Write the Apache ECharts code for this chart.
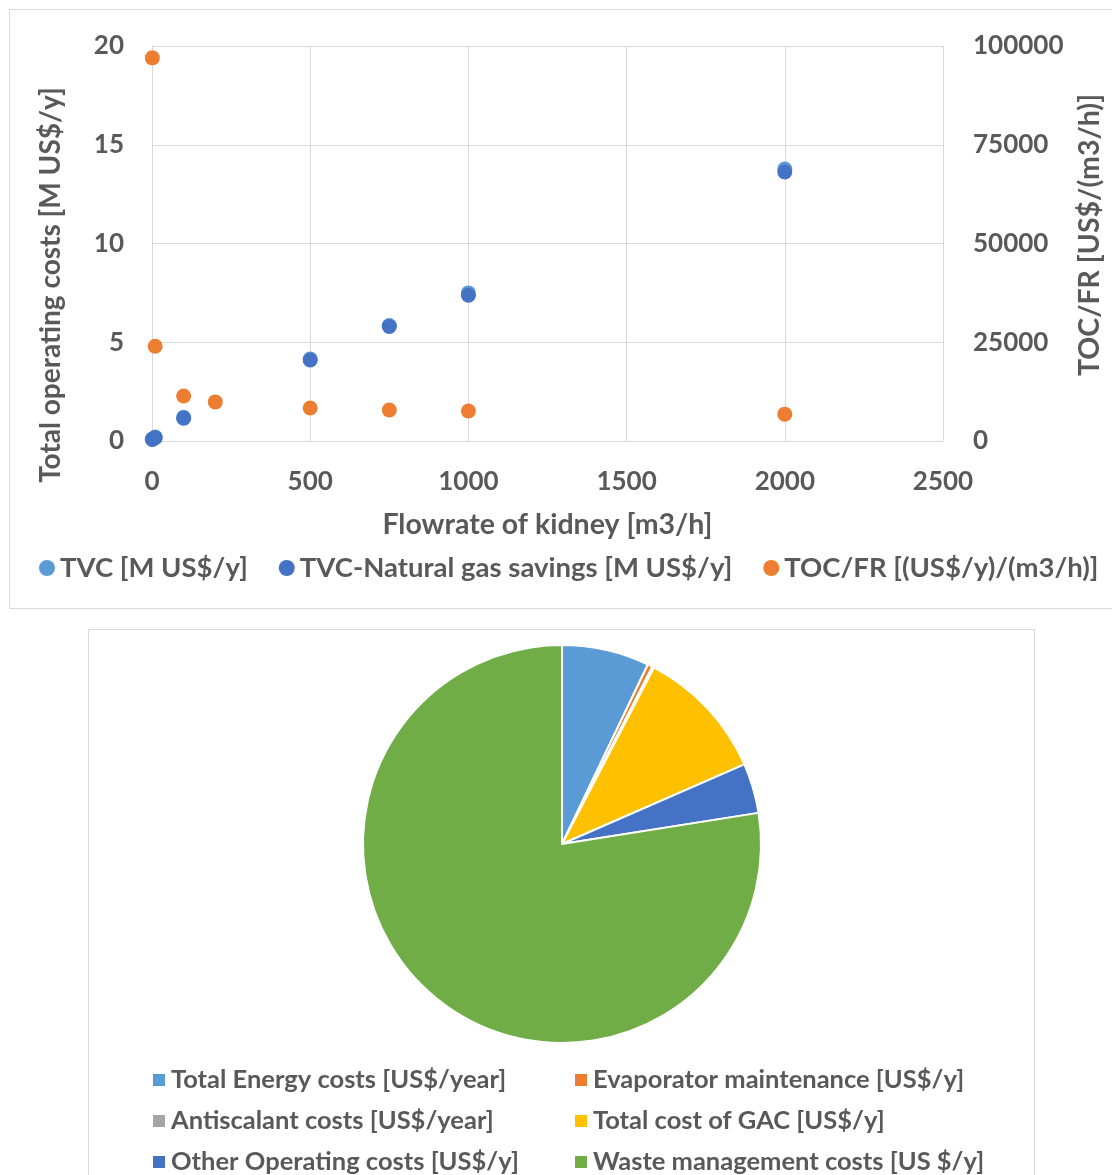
<!DOCTYPE html>
<html>
<head>
<meta charset="utf-8">
<script src="https://cdn.jsdelivr.net/npm/echarts@6/dist/echarts.min.js"></script>
<style>
  html, body { margin: 0; padding: 0; background: #fff; }
  #chart { width: 1112px; height: 1175px; }
</style>
</head>
<body>
<div id="chart"></div>
<script>
// Flowrate of the kidney stream [m3/h]
const flowTVC = [1, 10, 100, 500, 750, 1000, 2000];
const tvc = [0.10, 0.20, 1.20, 4.15, 5.85, 7.50, 13.77];            // TVC [M US$/y]
const tvcNG = [0.08, 0.17, 1.15, 4.10, 5.80, 7.38, 13.62];          // TVC-Natural gas savings [M US$/y]
const flowTOC = [1, 10, 100, 200, 500, 750, 1000, 2000];
const tocFR = [97000, 24000, 11400, 9900, 8350, 7850, 7600, 6800];  // TOC/FR [(US$/y)/(m3/h)]

// Operating cost breakdown (share of total, %)
const costNames = [
  'Total Energy costs [US$/year]',
  'Evaporator maintenance [US$/y]',
  'Antiscalant costs [US$/year]',
  'Total cost of GAC [US$/y]',
  'Other Operating costs [US$/y]',
  'Waste management costs [US $/y]'
];
const costValues = [7.1, 0.4, 0.15, 10.8, 4.05, 77.5];

const seriesNames = ['TVC [M US$/y]', 'TVC-Natural gas savings [M US$/y]', 'TOC/FR [(US$/y)/(m3/h)]'];

const FONT = 'Lato';
const TXT = '#595959';
const GRIDC = '#d9d9d9';
const colors = ['#5B9BD5', '#ED7D31', '#A5A5A5', '#FFC000', '#4472C4', '#70AD47'];

const pair = (xs, ys) => xs.map((x, i) => [x, ys[i]]);
const plain = v => String(v);

const chart = echarts.init(document.getElementById('chart'), null, { renderer: 'canvas' });

const txt = size => ({ color: TXT, fontFamily: FONT, fontWeight: 'bold', fontSize: size });
const tick = txt(26);

// pie legend: two columns of three rows, one legend per entry
const pieLegendPos = [[146, 0], [568, 0], [146, 1], [568, 1], [146, 2], [568, 2]];
const pieLegends = costNames.map((n, i) => ({
  data: [n], left: pieLegendPos[i][0], top: 1062 + pieLegendPos[i][1] * 41,
  icon: 'rect', itemWidth: 14, itemHeight: 14, itemGap: 0, textStyle: txt(25.5)
}));

chart.setOption({
  animation: false,
  textStyle: { fontFamily: FONT },
  graphic: [
    { type: 'rect', shape: { x: 9.5, y: 9.5, width: 1120, height: 599 }, style: { fill: 'none', stroke: GRIDC, lineWidth: 1 }, silent: true },
    { type: 'rect', shape: { x: 88.5, y: 629.5, width: 946, height: 560 }, style: { fill: 'none', stroke: GRIDC, lineWidth: 1 }, silent: true },
    { type: 'text', x: 51, y: 285, rotation: Math.PI / 2,
      style: { text: 'Total operating costs [M US$/y]', fill: TXT, font: 'bold 28px Lato', textAlign: 'center', textVerticalAlign: 'middle' } },
    { type: 'text', x: 1090, y: 235, rotation: Math.PI / 2,
      style: { text: 'TOC/FR [US$/(m3/h)]', fill: TXT, font: 'bold 28.5px Lato', textAlign: 'center', textVerticalAlign: 'middle' } }
  ],
  grid: { left: 152, right: 169, top: 46, bottom: 734, containLabel: false },
  xAxis: {
    type: 'value', min: 0, max: 2500, interval: 500,
    axisLine: { show: true, lineStyle: { color: GRIDC } },
    axisTick: { show: false },
    axisLabel: Object.assign({ margin: 28, formatter: plain }, tick),
    splitLine: { show: true, lineStyle: { color: GRIDC } },
    name: 'Flowrate of kidney [m3/h]', nameLocation: 'middle', nameGap: 69,
    nameTextStyle: txt(28.5)
  },
  yAxis: [
    { type: 'value', min: 0, max: 20, interval: 5,
      axisLine: { show: true, lineStyle: { color: GRIDC } },
      axisTick: { show: false },
      axisLabel: Object.assign({ margin: 28, formatter: plain }, tick),
      splitLine: { show: true, lineStyle: { color: GRIDC } } },
    { type: 'value', min: 0, max: 100000, interval: 25000, position: 'right',
      axisLine: { show: false }, axisTick: { show: false },
      axisLabel: Object.assign({ margin: 30, formatter: plain }, tick),
      splitLine: { show: false } }
  ],
  legend: [
    { data: seriesNames, left: 34, top: 549, icon: 'circle', itemWidth: 16, itemHeight: 16, itemGap: 31,
      textStyle: txt(27.5) }
  ].concat(pieLegends),
  series: [
    { name: seriesNames[0], type: 'scatter', yAxisIndex: 0, symbolSize: 15,
      itemStyle: { color: '#5B9BD5', opacity: 1 }, data: pair(flowTVC, tvc) },
    { name: seriesNames[1], type: 'scatter', yAxisIndex: 0, symbolSize: 15,
      itemStyle: { color: '#4472C4', opacity: 1 }, data: pair(flowTVC, tvcNG) },
    { name: seriesNames[2], type: 'scatter', yAxisIndex: 1, symbolSize: 15,
      itemStyle: { color: '#ED7D31', opacity: 1 }, data: pair(flowTOC, tocFR) },
    { type: 'pie', center: [562, 844], radius: 199, startAngle: 90, clockwise: true,
      label: { show: false }, labelLine: { show: false },
      itemStyle: { borderColor: '#fff', borderWidth: 2 },
      emphasis: { disabled: true },
      color: colors,
      data: costNames.map((n, i) => ({ name: n, value: costValues[i] })) }
  ]
});
</script>
</body>
</html>
